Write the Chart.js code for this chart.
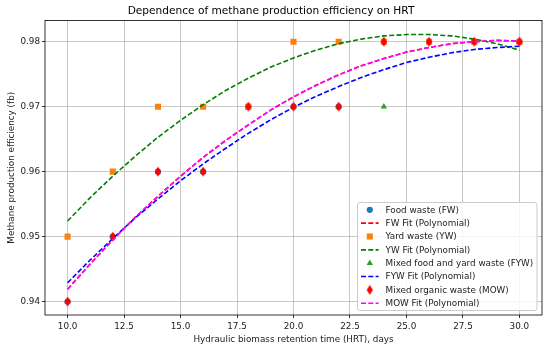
<!DOCTYPE html>
<html><head><meta charset="utf-8">
<script src="https://cdn.jsdelivr.net/npm/chart.js@4.4.0/dist/chart.umd.min.js"></script>
<style>html,body{margin:0;padding:0;background:#fff}canvas{display:block}</style>
</head><body>
<canvas id="c" width="550" height="350"></canvas>
<script>
// ---- data ----
const hrtDays   = [10, 12, 14, 16, 18, 20, 22, 24, 26, 28, 30];
const fwValues  = [0.94, 0.95, 0.96, 0.96, 0.97, 0.97, 0.97, 0.98, 0.98, 0.98, 0.98];
const ywValues  = [0.95, 0.96, 0.97, 0.97, 0.97, 0.98, 0.98, 0.98, 0.98, 0.98, 0.98];
const fywValues = [0.94, 0.95, 0.96, 0.96, 0.97, 0.97, 0.97, 0.97, 0.98, 0.98, 0.98];
const mowValues = [0.94, 0.95, 0.96, 0.96, 0.97, 0.97, 0.97, 0.98, 0.98, 0.98, 0.98];

const fitDays = [10, 11, 12, 13, 14, 15, 16, 17, 18, 19, 20, 21, 22, 23, 24, 25, 26, 27, 28, 29, 30];
const fwFit  = [0.9419, 0.9458, 0.9495, 0.9530, 0.9562, 0.9593, 0.9622, 0.9648, 0.9672, 0.9695, 0.9715,
                0.9733, 0.9749, 0.9763, 0.9774, 0.9784, 0.9791, 0.9797, 0.9800, 0.9802, 0.9801];
const ywFit  = [0.9524, 0.9560, 0.9593, 0.9624, 0.9653, 0.9679, 0.9703, 0.9725, 0.9744, 0.9761, 0.9775,
                0.9787, 0.9797, 0.9804, 0.9809, 0.9811, 0.9811, 0.9809, 0.9804, 0.9797, 0.9787];
const fywFit = [0.9429, 0.9464, 0.9497, 0.9529, 0.9558, 0.9586, 0.9612, 0.9636, 0.9659, 0.9680, 0.9699,
                0.9716, 0.9731, 0.9745, 0.9757, 0.9768, 0.9776, 0.9783, 0.9788, 0.9791, 0.9793];
const mowFit = [0.9419, 0.9458, 0.9495, 0.9530, 0.9562, 0.9593, 0.9622, 0.9648, 0.9672, 0.9695, 0.9715,
                0.9733, 0.9749, 0.9763, 0.9774, 0.9784, 0.9791, 0.9797, 0.9800, 0.9802, 0.9801];

const xTicks = [10.0, 12.5, 15.0, 17.5, 20.0, 22.5, 25.0, 27.5, 30.0];
const yTicks = [0.94, 0.95, 0.96, 0.97, 0.98];

const seriesLabels = ['Food waste (FW)', 'FW Fit (Polynomial)', 'Yard waste (YW)', 'YW Fit (Polynomial)',
  'Mixed food and yard waste (FYW)', 'FYW Fit (Polynomial)', 'Mixed organic waste (MOW)', 'MOW Fit (Polynomial)'];

// ---- styling ----
const FONT = 'DejaVu Sans';
const pts = (xs, ys) => xs.map((x, i) => ({x: x, y: ys[i]}));

// thin diamond marker
const diamond = document.createElement('canvas');
diamond.width = 8; diamond.height = 11;
(function(){
  const d = diamond.getContext('2d');
  d.fillStyle = '#ff0000';
  d.beginPath(); d.moveTo(4, 0.5); d.lineTo(7.1, 5.5); d.lineTo(4, 10.5); d.lineTo(0.9, 5.5); d.closePath(); d.fill();
})();

const dash = [5, 2.3];
const LW = 1.6;
function scatterSet(label, ys, color, style, r, order) {
  return {label, data: pts(hrtDays, ys), backgroundColor: color, borderColor: color, borderWidth: 0,
    pointStyle: style, pointRadius: r, showLine: false, order};
}
function fitSet(label, ys, color, order) {
  return {label, data: pts(fitDays, ys), borderColor: color, backgroundColor: color, borderWidth: LW,
    borderDash: dash, pointRadius: 0, showLine: true, tension: 0, order, markerless: true};
}

const datasets = [
  scatterSet(seriesLabels[0], fwValues, '#1f77b4', 'circle', 3.1, 8),
  fitSet(seriesLabels[1], fwFit, '#ff0000', 7),
  scatterSet(seriesLabels[2], ywValues, '#ff7f0e', 'rect', 4.3, 6),
  fitSet(seriesLabels[3], ywFit, '#008000', 5),
  scatterSet(seriesLabels[4], fywValues, '#2ca02c', 'triangle', 3.7, 4),
  fitSet(seriesLabels[5], fywFit, '#0000ff', 3),
  scatterSet(seriesLabels[6], mowValues, '#ff0000', diamond, 4, 2),
  fitSet(seriesLabels[7], mowFit, '#ff00ff', 1),
];

function drawMarker(ctx, ds, x, y) {
  ctx.save();
  ctx.fillStyle = ds.backgroundColor;
  const s = ds.pointStyle, r = ds.pointRadius;
  if (s === 'circle') { ctx.beginPath(); ctx.arc(x, y, r, 0, Math.PI * 2); ctx.fill(); }
  else if (s === 'rect') { const h = r * Math.SQRT1_2; ctx.fillRect(x - h, y - h, 2 * h, 2 * h); }
  else if (s === 'triangle') {
    ctx.beginPath();
    ctx.moveTo(x, y - r); ctx.lineTo(x + r * 0.866, y + r * 0.5); ctx.lineTo(x - r * 0.866, y + r * 0.5);
    ctx.closePath(); ctx.fill();
  } else if (s instanceof HTMLCanvasElement) { ctx.drawImage(s, x - s.width / 2, y - s.height / 2); }
  ctx.restore();
}

const framePlugin = {
  id: 'frameLegend',
  afterDraw(chart) {
    const ctx = chart.ctx, a = chart.chartArea;
    ctx.save();
    ctx.strokeStyle = '#000'; ctx.lineWidth = 0.8;
    ctx.strokeRect(a.left, a.top, a.right - a.left, a.bottom - a.top);
    // legend box
    const bx = 357.5, by = 202.5, bw = 179.5, bh = 108;
    ctx.fillStyle = 'rgba(255,255,255,0.85)'; ctx.strokeStyle = '#cccccc'; ctx.lineWidth = 1;
    ctx.beginPath();
    if (ctx.roundRect) ctx.roundRect(bx, by, bw, bh, 2.5); else ctx.rect(bx, by, bw, bh);
    ctx.fill(); ctx.stroke();
    ctx.font = '8.8px "' + FONT + '"'; ctx.textBaseline = 'middle'; ctx.textAlign = 'left';
    const ds = chart.data.datasets;
    for (let i = 0; i < ds.length; i++) {
      const y = 209.8 + i * 13.35;
      if (ds[i].markerless) {
        ctx.save();
        ctx.strokeStyle = ds[i].borderColor; ctx.lineWidth = LW; ctx.setLineDash(dash);
        ctx.beginPath(); ctx.moveTo(361, y); ctx.lineTo(378.6, y); ctx.stroke();
        ctx.restore();
      } else {
        drawMarker(ctx, ds[i], 369.8, y);
      }
      ctx.fillStyle = '#222';
      ctx.fillText(ds[i].label, 385.6, y + 0.5);
    }
    ctx.restore();
  }
};

new Chart(document.getElementById('c'), {
  type: 'scatter',
  data: {datasets},
  options: {
    responsive: false, animation: false, devicePixelRatio: 1, events: [],
    layout: {padding: {left: 0, right: 8, top: 0, bottom: 0}},
    plugins: {
      legend: {display: false}, tooltip: {enabled: false},
      title: {display: true, text: 'Dependence of methane production efficiency on HRT', color: '#000',
        font: {family: FONT, size: 10.6, weight: 'normal'}, padding: {top: 5, bottom: 2.8}}
    },
    scales: {
      x: {
        type: 'linear', min: 9, max: 31,
        afterFit: s => { s.height = 35; },
        afterBuildTicks: s => { s.ticks = xTicks.map(v => ({value: v})); },
        grid: {color: '#b0b0b0', lineWidth: 0.7, tickColor: '#000', tickLength: 3, tickWidth: 0.8},
        border: {display: false},
        ticks: {color: '#222', font: {family: FONT, size: 8.8}, padding: 3, maxRotation: 0,
          callback: v => Number(v).toFixed(1)},
        title: {display: true, text: 'Hydraulic biomass retention time (HRT), days', color: '#222',
          font: {family: FONT, size: 8.8}, padding: {top: 0, bottom: 4.6}}
      },
      y: {
        type: 'linear', min: 0.93794, max: 0.98326,
        afterFit: s => { s.width = 45; },
        afterBuildTicks: s => { s.ticks = yTicks.map(v => ({value: v})); },
        grid: {color: '#b0b0b0', lineWidth: 0.7, tickColor: '#000', tickLength: 3, tickWidth: 0.8},
        border: {display: false},
        ticks: {color: '#222', font: {family: FONT, size: 8.8}, padding: 2,
          callback: v => Number(v).toFixed(2)},
        title: {display: true, text: 'Methane production efficiency (fb)', color: '#222',
          font: {family: FONT, size: 8.8}, padding: {top: 6.6, bottom: 0}}
      }
    }
  },
  plugins: [framePlugin]
});
</script>
</body></html>
